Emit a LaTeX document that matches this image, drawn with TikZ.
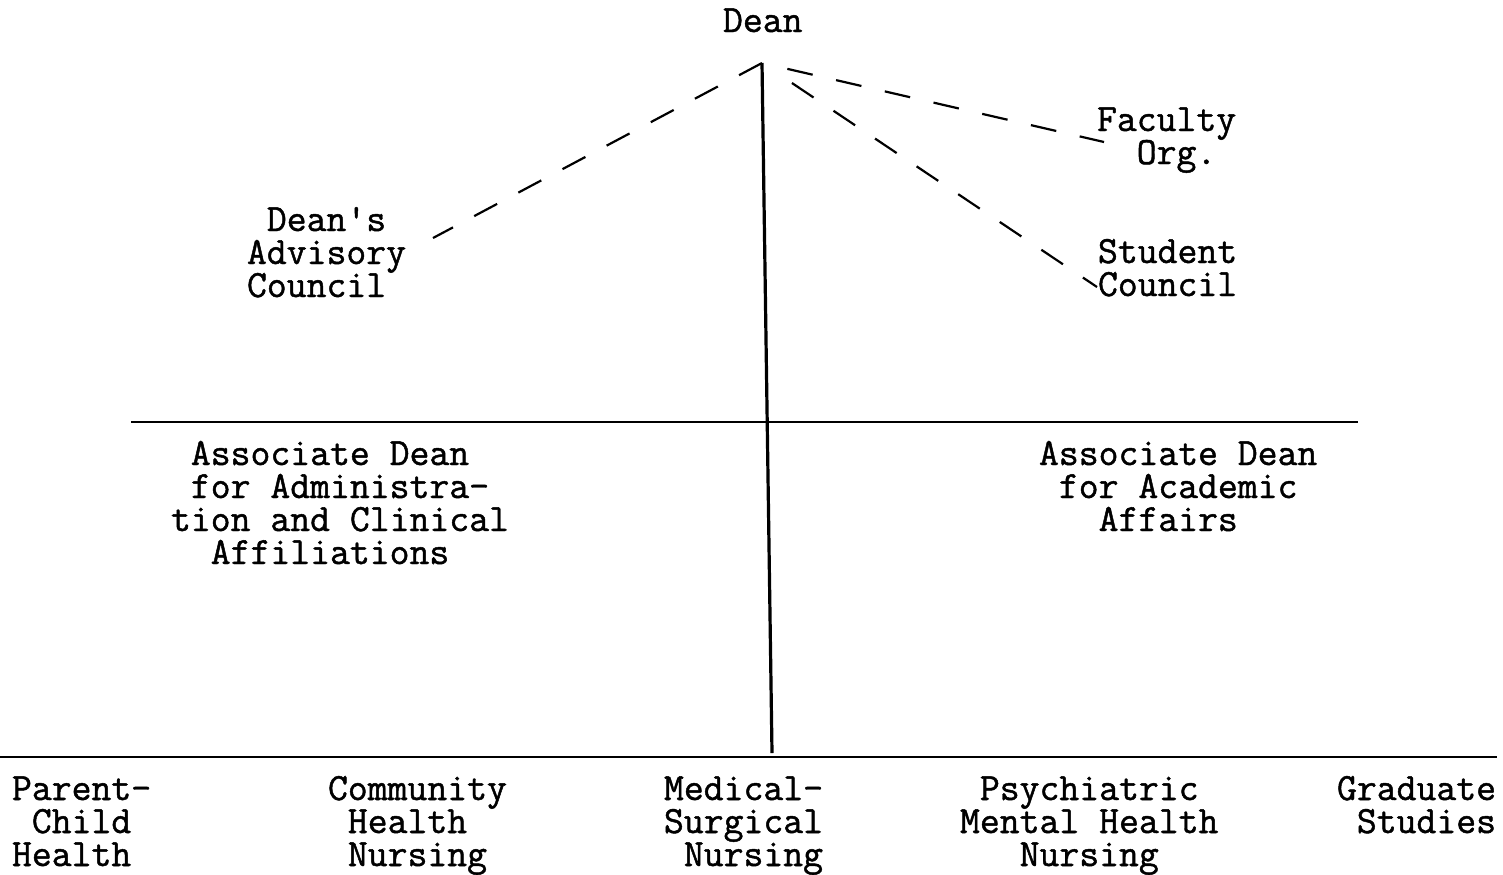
\documentclass[tikz,border=0pt]{standalone}
\usepackage{fontspec}
\newfontfamily\typewriter{Latin Modern Mono}[FakeBold=1.2]
% one blank character cell of the typewriter face
\newcommand\sk{\hphantom{0}}
% fixes the height of the first line of every label
\newcommand\fl{\rule{0pt}{14pt}}
\begin{document}
\begin{tikzpicture}[x=0.5pt,y=-0.5pt,
  txt/.style={anchor=north west, inner sep=0pt, outer sep=0pt, align=left,
    font={\fontsize{19.3pt}{16.5pt}\typewriter}},
  trunk/.style={line width=1.6pt},
  bar/.style={line width=1.3pt},
  link/.style={line width=1.1pt, dash pattern=on 13pt off 12pt}]
\useasboundingbox (0,0) rectangle (1503,874);

% titles (north edge = first baseline - 28)
\node[txt] (dean) at (723,4)   {\fl Dean};
\node[txt] (adv)  at (247,203) {\fl\sk Dean's\\Advisory\\Council};
\node[txt] (fac)  at (1097,103) {\fl Faculty\\\sk\sk Org.};
\node[txt] (stu)  at (1098,235) {\fl Student\\Council};
\node[txt] (adm)  at (171,437) {\fl\sk Associate Dean\\\sk for Administra-\\tion and Clinical\\\sk\sk Affiliations};
\node[txt] (aca)  at (1039,437) {\fl Associate Dean\\\sk for Academic\\\sk\sk\sk Affairs};
\node[txt] (pch)  at (12,772)  {\fl Parent-\\\sk Child\\Health};
\node[txt] (chn)  at (328,772) {\fl Community\\\sk Health\\\sk Nursing};
\node[txt] (msn)  at (664,772) {\fl Medical-\\Surgical\\\sk Nursing};
\node[txt] (pmh)  at (960,772) {\fl\sk Psychiatric\\Mental Health\\\sk\sk\sk Nursing};
\node[txt] (gst)  at (1337,772) {\fl Graduate\\\sk Studies};

% line ends
\coordinate (apex) at (762,63);
\coordinate (foot) at (772,753);
\coordinate (upL)  at (131,422);
\coordinate (upR)  at (1358,422);
\coordinate (lowL) at (0,757);
\coordinate (lowR) at (1497,757);
\coordinate (advTip) at (433,238);
\coordinate (facTip) at (1104,142);
\coordinate (stuTip) at (1097,287);

% solid lines of authority
\draw[trunk] (apex) -- (foot);
\draw[bar] (upL) -- (upR);
\draw[bar] (lowL) -- (lowR);

% dashed advisory links
\draw[link] (apex) -- (advTip);
\draw[link, shorten <=13pt] (apex) -- (facTip);
\draw[link, shorten <=18pt] (apex) -- (stuTip);
\end{tikzpicture}
\end{document}
